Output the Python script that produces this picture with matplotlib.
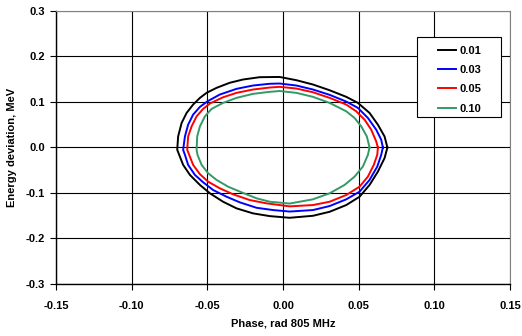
import numpy as np
import matplotlib.pyplot as plt
from matplotlib.patches import Rectangle

plt.rcParams['font.family'] = ['Liberation Sans', 'DejaVu Sans']
plt.rcParams['font.weight'] = 'bold'

# phase (rad 805 MHz) and energy deviation (MeV), points read around each contour
phase_001 = [0.0690, 0.0671, 0.0627, 0.0572, 0.0495, 0.0418, 0.0308, 0.0198, 0.0088, -0.0022,
             -0.0154, -0.0264, -0.0352, -0.0439, -0.0505, -0.0549, -0.0594, -0.0637, -0.0670, -0.0693,
             -0.0699, -0.0686, -0.0660, -0.0615, -0.0549, -0.0483, -0.0396, -0.0307, -0.0198, -0.0088,
             0.0044, 0.0198, 0.0308, 0.0418, 0.0506, 0.0572, 0.0627, 0.0671, 0.0690]
energy_001 = [0.0000, 0.0243, 0.0501, 0.0759, 0.0980, 0.1113, 0.1258, 0.1384, 0.1479, 0.1550,
              0.1545, 0.1494, 0.1422, 0.1311, 0.1201, 0.1090, 0.0943, 0.0759, 0.0539, 0.0243,
              -0.0051, -0.0161, -0.0382, -0.0603, -0.0823, -0.1007, -0.1192, -0.1338, -0.1448, -0.1508,
              -0.1545, -0.1501, -0.1413, -0.1265, -0.1082, -0.0823, -0.0530, -0.0234, 0.0000]

phase_003 = [0.0660, 0.0649, 0.0616, 0.0561, 0.0495, 0.0418, 0.0308, 0.0198, 0.0088, -0.0022,
             -0.0088, -0.0198, -0.0307, -0.0418, -0.0499, -0.0549, -0.0594, -0.0627, -0.0648, -0.0660,
             -0.0648, -0.0627, -0.0582, -0.0528, -0.0462, -0.0373, -0.0286, -0.0175, -0.0066, 0.0044,
             0.0198, 0.0308, 0.0418, 0.0506, 0.0572, 0.0623, 0.0649, 0.0660]
energy_003 = [0.0000, 0.0170, 0.0391, 0.0649, 0.0870, 0.1009, 0.1157, 0.1274, 0.1362, 0.1406,
              0.1400, 0.1362, 0.1289, 0.1163, 0.1015, 0.0892, 0.0722, 0.0501, 0.0243, -0.0051,
              -0.0161, -0.0382, -0.0603, -0.0764, -0.0934, -0.1082, -0.1205, -0.1325, -0.1375, -0.1408,
              -0.1375, -0.1287, -0.1139, -0.0971, -0.0713, -0.0419, -0.0161, 0.0000]

phase_005 = [0.0627, 0.0616, 0.0583, 0.0539, 0.0484, 0.0418, 0.0308, 0.0198, 0.0088, -0.0022,
             -0.0088, -0.0198, -0.0307, -0.0396, -0.0484, -0.0528, -0.0571, -0.0604, -0.0627, -0.0633,
             -0.0620, -0.0594, -0.0549, -0.0495, -0.0418, -0.0330, -0.0220, -0.0110, 0.0044, 0.0198,
             0.0308, 0.0418, 0.0506, 0.0561, 0.0600, 0.0623, 0.0627]
energy_005 = [0.0000, 0.0132, 0.0391, 0.0611, 0.0795, 0.0943, 0.1091, 0.1214, 0.1296, 0.1333,
              0.1318, 0.1274, 0.1201, 0.1104, 0.0965, 0.0848, 0.0684, 0.0464, 0.0243, -0.0051,
              -0.0161, -0.0382, -0.0587, -0.0751, -0.0896, -0.1029, -0.1155, -0.1227, -0.1294, -0.1265,
              -0.1192, -0.1044, -0.0861, -0.0640, -0.0382, -0.0161, 0.0000]

phase_010 = [0.0572, 0.0554, 0.0517, 0.0473, 0.0418, 0.0308, 0.0198, 0.0088, -0.0022, -0.0088,
             -0.0198, -0.0307, -0.0396, -0.0472, -0.0516, -0.0549, -0.0567, -0.0571, -0.0565, -0.0538,
             -0.0495, -0.0439, -0.0363, -0.0274, -0.0175, -0.0088, 0.0044, 0.0198, 0.0308, 0.0407,
             0.0473, 0.0528, 0.0561, 0.0572]
energy_010 = [0.0000, 0.0243, 0.0464, 0.0649, 0.0795, 0.0980, 0.1113, 0.1201, 0.1241, 0.1223,
              0.1179, 0.1091, 0.0980, 0.0848, 0.0684, 0.0464, 0.0243, -0.0051, -0.0161, -0.0382,
              -0.0565, -0.0713, -0.0861, -0.0985, -0.1117, -0.1192, -0.1232, -0.1139, -0.1007, -0.0823,
              -0.0640, -0.0419, -0.0161, 0.0000]

labels = ['0.01', '0.03', '0.05', '0.10']
colors = ['black', '#0000FF', '#FF0000', '#339966']
x_ticks = [-0.15, -0.10, -0.05, 0.00, 0.05, 0.10, 0.15]
y_ticks = [-0.3, -0.2, -0.1, 0.0, 0.1, 0.2, 0.3]


def draw():
    fig = plt.figure(figsize=(5.22, 3.36), dpi=100)
    ax = fig.add_axes([0.1073, 0.1548, 0.8697, 0.8125])

    curves = [(phase_001, energy_001), (phase_003, energy_003),
              (phase_005, energy_005), (phase_010, energy_010)]
    for (px, py), lab, col in zip(curves, labels, colors):
        ax.plot(px, py, color=col, lw=1.4, label=lab)

    ax.set_xlim(-0.15, 0.15)
    ax.set_ylim(-0.3, 0.3)
    ax.set_xticks(x_ticks)
    ax.set_yticks(y_ticks)
    ax.set_xticklabels(['%.2f' % v for v in x_ticks])
    ax.set_yticklabels(['%.1f' % v for v in y_ticks])
    ax.grid(True, color='black', lw=0.8)
    ax.set_axisbelow(True)
    ax.tick_params(direction='out', length=4, width=0.8, labelsize=8)
    ax.tick_params(axis='x', pad=8)
    ax.tick_params(axis='y', pad=4)

    for s in ['top', 'right']:
        ax.spines[s].set_color('#808080')
    for s in ['left', 'bottom']:
        ax.spines[s].set_color('black')
        ax.spines[s].set_linewidth(1.0)

    ax.set_xlabel('Phase, rad 805 MHz', fontsize=8, fontweight='bold', labelpad=6)
    ax.set_ylabel('Energy deviation, MeV', fontsize=8, fontweight='bold', labelpad=6)

    # legend box drawn separately (Excel-style wide box)
    box = Rectangle((0.796, 0.6106), 0.1837, 0.293, transform=ax.transAxes,
                    facecolor='white', edgecolor='black', lw=0.8, zorder=5)
    ax.add_patch(box)
    leg = ax.legend(loc='center left', bbox_to_anchor=(0.842, 0.749), fontsize=8,
                    frameon=False, handlelength=1.62, handletextpad=0.25,
                    labelspacing=0.84, borderpad=0, borderaxespad=0)
    leg.set_zorder(6)
    for t in leg.get_texts():
        t.set_fontweight('bold')

    fig.savefig('out.png', dpi=100)


if __name__ == '__main__':
    draw()
